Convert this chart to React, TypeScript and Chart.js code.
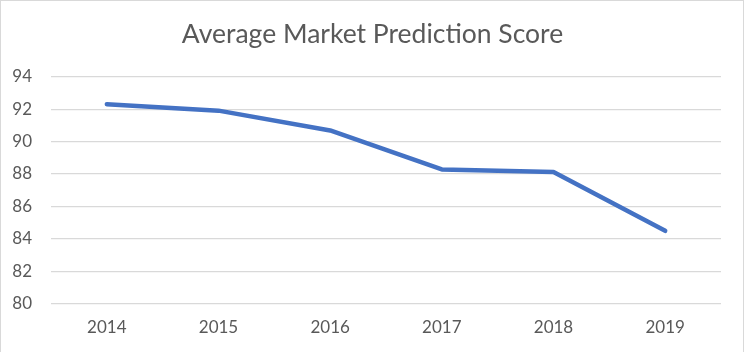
import React, { useEffect, useRef } from "react";
import { Chart, registerables } from "chart.js";

Chart.register(...registerables);

const years = ["2014", "2015", "2016", "2017", "2018", "2019"];
const scores = [92.31, 91.91, 90.69, 88.28, 88.13, 84.49];
const yTicks = [80, 82, 84, 86, 88, 90, 92, 94];
const titleText = "Average Market Prediction Score";

export default function App() {
  const ref = useRef<HTMLCanvasElement | null>(null);

  useEffect(() => {
    if (!ref.current) return;
    const chart = new Chart(ref.current, {
      type: "line",
      data: {
        labels: years,
        datasets: [
          {
            label: "Score",
            data: scores,
            borderColor: "#4472C4",
            backgroundColor: "#4472C4",
            borderWidth: 4.5,
            pointRadius: 0,
            pointHoverRadius: 0,
            tension: 0,
            borderCapStyle: "round",
            borderJoinStyle: "round",
            fill: false,
            yAxisID: "y",
          },
        ],
      },
      options: {
        animation: false,
        responsive: false,
        maintainAspectRatio: false,
        layout: { padding: { left: 0, right: 0, top: 0, bottom: 0 } },
        plugins: {
          legend: { display: false },
          tooltip: { enabled: false },
          title: {
            display: true,
            text: titleText,
            color: "#595959",
            font: { family: "Lato", size: 26.5, weight: "normal" },
            padding: { top: 19, bottom: 26 },
          },
        },
        scales: {
          x: {
            offset: true,
            grid: { display: false, drawTicks: false },
            border: { display: false },
            ticks: {
              color: "#595959",
              font: { family: "Lato", size: 17 },
              padding: 14,
              maxRotation: 0,
            },
          },
          y: {
            position: "left",
            min: 80,
            max: 94,
            afterBuildTicks: (scale: any) => {
              scale.ticks = yTicks.map((v) => ({ value: v }));
            },
            afterFit: (scale: any) => {
              scale.width = 51;
            },
            grid: { color: "#d9d9d9", lineWidth: 1.3, drawTicks: false },
            border: { display: false },
            ticks: {
              color: "#595959",
              font: { family: "Lato", size: 17 },
              padding: 19,
            },
          },
          yRight: {
            position: "right",
            min: 80,
            max: 94,
            grid: { display: false, drawTicks: false },
            border: { display: false },
            ticks: { display: false },
            afterFit: (scale: any) => {
              scale.width = 24;
            },
          },
        },
      },
    });
    return () => chart.destroy();
  }, []);

  return (
    <div style={{ position: "fixed", left: 0, top: 0, width: 745, height: 352, background: "#fff", overflow: "hidden" }}>
      <div
        style={{
          position: "absolute",
          left: 0,
          top: 0,
          width: 744,
          height: 360,
          boxSizing: "border-box",
          borderTop: "1px solid #d9d9d9",
          borderLeft: "1px solid #d9d9d9",
          borderRight: "1px solid #d9d9d9",
        }}
      />
      <canvas ref={ref} width={745} height={352} style={{ position: "absolute", left: 0, top: 0, width: 745, height: 352 }} />
    </div>
  );
}
